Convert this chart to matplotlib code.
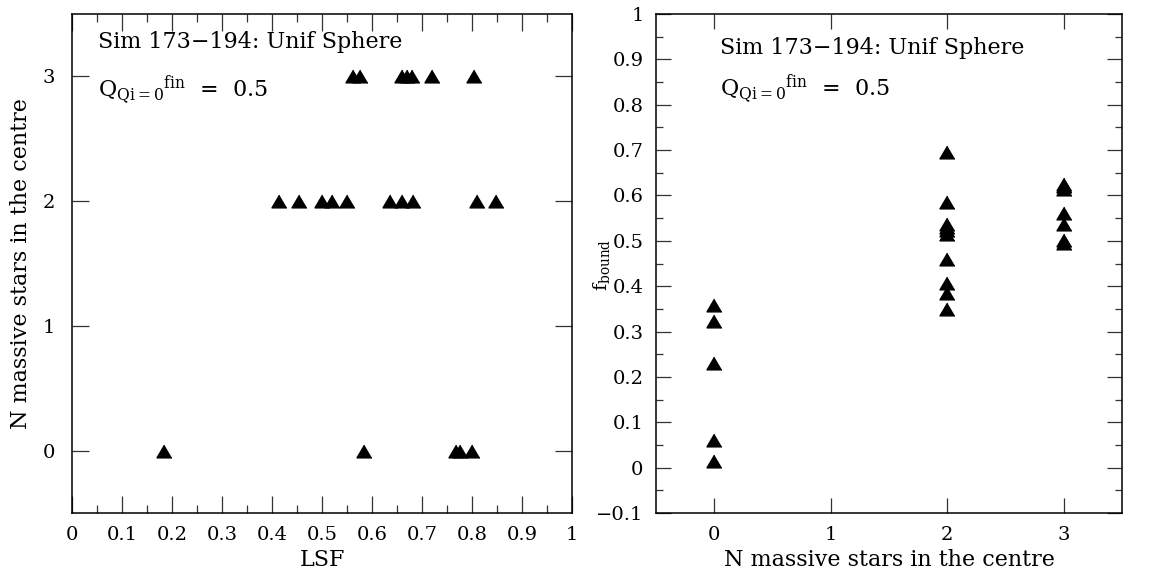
import matplotlib
matplotlib.use("Agg")
import matplotlib.pyplot as plt
from matplotlib.ticker import MultipleLocator

plt.rcParams["font.family"] = ["DejaVu Serif"]
plt.rcParams["mathtext.fontset"] = "dejavuserif"

# left panel: LSF vs number of massive stars in the centre
lsf_n3 = [0.561, 0.576, 0.659, 0.669, 0.679, 0.720, 0.804]
lsf_n2 = [0.413, 0.454, 0.499, 0.519, 0.549, 0.636, 0.659, 0.682, 0.809, 0.847]
lsf_n0 = [0.184, 0.583, 0.768, 0.776, 0.800]

# right panel: bound fraction vs number of massive stars in the centre
fb_n0 = [0.358, 0.324, 0.230, 0.061, 0.014]
fb_n2 = [0.695, 0.585, 0.536, 0.530, 0.524, 0.516, 0.459, 0.406, 0.385, 0.349]
fb_n3 = [0.626, 0.620, 0.614, 0.561, 0.536, 0.501, 0.496]

TITLE = "Sim 173\u2212194: Unif Sphere"
QLINE = r"Q$_{\mathregular{Qi=0}}{}^{\mathregular{fin}}$  =  0.5"
XLAB = "N massive stars in the centre"

tri = [(0, 0.85), (-1, -0.85), (1, -0.85)]
mk = dict(marker=tri, ms=10.8, color="black", ls="none")

W, H = 1159, 582
fig = plt.figure(figsize=(W / 100, H / 100), dpi=100)
ax1 = fig.add_axes([72 / W, (H - 513) / H, 500 / W, 499 / H])
ax2 = fig.add_axes([656 / W, (H - 513) / H, 466 / W, 499 / H])

for ax in (ax1, ax2):
    for s in ax.spines.values():
        s.set_linewidth(1.1)
    ax.tick_params(which="both", direction="in", top=True, right=True,
                   labelsize=14, pad=9, width=0.9, color="#333333")

# ---- left
ax1.plot(lsf_n3, [3] * len(lsf_n3), **mk)
ax1.plot(lsf_n2, [2] * len(lsf_n2), **mk)
ax1.plot(lsf_n0, [0] * len(lsf_n0), **mk)
ax1.set_xlim(0, 1)
ax1.set_ylim(-0.5, 3.5)
ax1.xaxis.set_major_locator(MultipleLocator(0.1))
ax1.xaxis.set_minor_locator(MultipleLocator(0.05))
ax1.yaxis.set_major_locator(MultipleLocator(1))
ax1.xaxis.set_major_formatter(lambda v, p: f"{v:.1f}" if 1e-9 < v < 1 - 1e-9 else f"{v:.0f}")
ax1.tick_params(which="major", length=12)
ax1.tick_params(which="minor", length=5.5)
ax1.tick_params(axis="y", pad=12)
ax1.set_xlabel("LSF", fontsize=16, labelpad=4)
ax1.set_ylabel(XLAB, fontsize=16, labelpad=8)
ax1.text(98 / W, (H - 48) / H, TITLE, transform=fig.transFigure, fontsize=16)
ax1.text(98 / W, (H - 97) / H, QLINE, transform=fig.transFigure, fontsize=16)

# ---- right
ax2.plot([0] * len(fb_n0), fb_n0, **mk)
ax2.plot([2] * len(fb_n2), fb_n2, **mk)
ax2.plot([3] * len(fb_n3), fb_n3, **mk)
ax2.set_xlim(-0.5, 3.5)
ax2.set_ylim(-0.1, 1.0)
ax2.xaxis.set_major_locator(MultipleLocator(1))
ax2.yaxis.set_major_locator(MultipleLocator(0.1))
ax2.yaxis.set_minor_locator(MultipleLocator(0.05))
ax2.yaxis.set_major_formatter(lambda v, p: f"{v:.1f}".replace("-", "\u2212") if abs(v) > 1e-9 and abs(v - 1) > 1e-9 else f"{v:.0f}")
ax2.tick_params(which="major", length=10.5)
ax2.tick_params(which="minor", length=5)
ax2.set_xlabel(XLAB, fontsize=16, labelpad=4)
fig.text(601 / W, (H - 265) / H, r"f$_{\mathregular{bound}}$", rotation=90,
         ha="center", va="center", fontsize=14)
ax2.text(720 / W, (H - 54) / H, TITLE, transform=fig.transFigure, fontsize=16)
ax2.text(720 / W, (H - 96) / H, QLINE, transform=fig.transFigure, fontsize=16)

fig.savefig("out.png", dpi=100)
